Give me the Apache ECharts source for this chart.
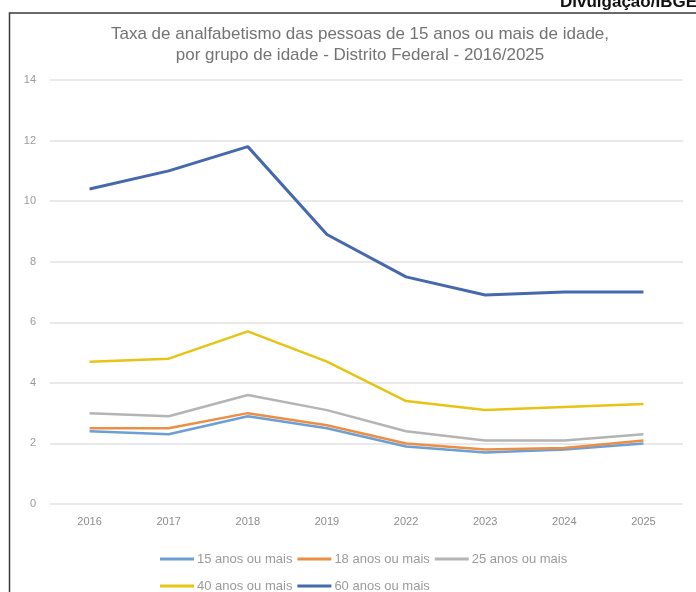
<!DOCTYPE html>
<html>
<head>
<meta charset="utf-8">
<script src="https://cdn.jsdelivr.net/npm/echarts@6/dist/echarts.min.js"></script>
<style>
html,body{margin:0;padding:0;background:#fff;}
#c{width:696px;height:592px;}
</style>
</head>
<body>
<div id="c"></div>
<script>
const categories = ['2016','2017','2018','2019','2022','2023','2024','2025'];
const seriesNames = ['15 anos ou mais','18 anos ou mais','25 anos ou mais','40 anos ou mais','60 anos ou mais'];
const s15 = [2.4, 2.3, 2.9, 2.5, 1.9, 1.7, 1.8, 2.0];
const s18 = [2.5, 2.5, 3.0, 2.6, 2.0, 1.8, 1.85, 2.1];
const s25 = [3.0, 2.9, 3.6, 3.1, 2.4, 2.1, 2.1, 2.3];
const s40 = [4.7, 4.8, 5.7, 4.7, 3.4, 3.1, 3.2, 3.3];
const s60 = [10.4, 11.0, 11.8, 8.9, 7.5, 6.9, 7.0, 7.0];
const yTicks = {min: 0, max: 14, interval: 2};
const titleText = 'Taxa de analfabetismo das pessoas de 15 anos ou mais de idade,\npor grupo de idade - Distrito Federal - 2016/2025';
const creditText = 'Divulgação/IBGE';

const colors = ['#6b9fd6', '#ec8f45', '#b4b4b4', '#e6c414', '#4668ad'];
const values = [s15, s18, s25, s40, s60];

const chart = echarts.init(document.getElementById('c'), null, {renderer: 'canvas'});
chart.setOption({
  animation: false,
  backgroundColor: '#fff',
  color: colors,
  title: {
    text: titleText,
    left: 355,
    top: 19,
    textAlign: 'center',
    textStyle: {fontFamily: 'Liberation Sans', fontSize: 17, fontWeight: 'normal', color: '#737373', lineHeight: 21}
  },
  graphic: [
    {type: 'rect', shape: {x: 9.5, y: 13, width: 720, height: 620}, style: {fill: 'none', stroke: '#3a3a3a', lineWidth: 1.5}, z: 100},
    {type: 'text', x: 560, y: 11, style: {text: creditText, fontFamily: 'Liberation Sans', fontSize: 17, fontWeight: 'bold', fill: '#111', verticalAlign: 'bottom', align: 'left'}, z: 100}
  ],
  legend: {
    left: 155,
    top: 543,
    width: 440,
    itemGap: 5,
    itemWidth: 34,
    itemHeight: 3,
    icon: 'rect',
    data: seriesNames,
    textStyle: {fontFamily: 'Liberation Sans', fontSize: 13, color: '#9a9a9a', lineHeight: 22, padding: [0, 0, 0, -2]}
  },
  grid: {left: 50, right: 13, top: 80, bottom: 88, containLabel: false},
  xAxis: {
    type: 'category',
    data: categories,
    boundaryGap: true,
    axisLine: {show: false},
    axisTick: {show: false},
    axisLabel: {margin: 12, fontFamily: 'Liberation Sans', fontSize: 11, color: '#8c8c8c'}
  },
  yAxis: {
    type: 'value',
    min: yTicks.min,
    max: yTicks.max,
    interval: yTicks.interval,
    axisLine: {show: false},
    axisTick: {show: false},
    axisLabel: {margin: 14, fontFamily: 'Liberation Sans', fontSize: 11, color: '#9a9a9a'},
    splitLine: {lineStyle: {color: '#e2e2e2', width: 1.5}}
  },
  series: seriesNames.map((n, i) => ({
    name: n,
    type: 'line',
    data: values[i],
    symbol: 'none',
    lineStyle: {width: i === 4 ? 3 : 2.5, color: colors[i]},
    itemStyle: {color: colors[i]},
    z: i === 2 ? 1 : 2 + i
  }))
});
</script>
</body>
</html>
